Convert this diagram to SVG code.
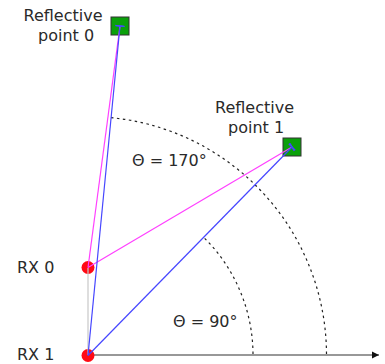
<svg xmlns="http://www.w3.org/2000/svg" width="385" height="364" viewBox="0 0 385 364">
<style>
text{font-family:"DejaVu Sans",Verdana,sans-serif;font-size:16px;fill:#2a2a2a}
.blue{stroke:#4646ff;stroke-width:1.2;fill:none}
.mag{stroke:#ff40ff;stroke-width:1.2;fill:none}
.arc{stroke:#222;stroke-width:1.2;fill:none;stroke-dasharray:2.5 3.5}
.rp{fill:#0aa00a;stroke:#333;stroke-width:1}
.rx{fill:#ff0a14}
</style>
<defs>
<marker id="tee" markerWidth="2" markerHeight="12" refX="1" refY="6" orient="auto" markerUnits="userSpaceOnUse">
<path d="M1,1.5 L1,10.5" stroke="#4646ff" stroke-width="1.4"/>
</marker>
<marker id="arr" markerWidth="8" markerHeight="8" refX="7" refY="4" orient="auto" markerUnits="userSpaceOnUse">
<path d="M0,0.5 L7,4 L0,7.5 Z" fill="#111"/>
</marker>
</defs>
<g id="axis">
<line x1="88" y1="355" x2="379" y2="355" stroke="#333" stroke-width="1.2" marker-end="url(#arr)"/>
</g>
<g id="arcs">
<path class="arc" d="M111,117.6 A238.5,238.5 0 0 1 326.5,355"/>
<path class="arc" d="M204.7,238.3 A165,165 0 0 1 253,355"/>
</g>
<g id="rp0">
<rect class="rp" x="111" y="17" width="18" height="18"/>
<text x="23.5" y="21">Reflective</text>
<text x="38" y="41">point 0</text>
</g>
<g id="rp1">
<rect class="rp" x="283" y="138" width="18" height="18"/>
<text x="215" y="113">Reflective</text>
<text x="228" y="133">point 1</text>
</g>
<g id="rx0">
<circle class="rx" cx="88" cy="267.5" r="6.5"/>
<text x="17" y="273">RX 0</text>
</g>
<g id="rx1">
<circle class="rx" cx="88" cy="355.5" r="6.5"/>
<text x="17" y="359.5">RX 1</text>
</g>
<g id="connectors">
<line x1="88" y1="355" x2="88" y2="268" stroke="#c8c8c8" stroke-width="1.2"/>
<line class="mag" x1="88" y1="267.5" x2="120" y2="26" marker-end="url(#tee)"/>
<line class="mag" x1="88" y1="267.5" x2="292" y2="147" marker-end="url(#tee)"/>
<line class="blue" x1="88" y1="355.5" x2="120" y2="26" marker-end="url(#tee)"/>
<line class="blue" x1="88" y1="355.5" x2="292" y2="147" marker-end="url(#tee)"/>
</g>
<g id="labels">
<text x="132" y="166">Θ = 170°</text>
<text x="173" y="327">Θ = 90°</text>
</g>
</svg>
